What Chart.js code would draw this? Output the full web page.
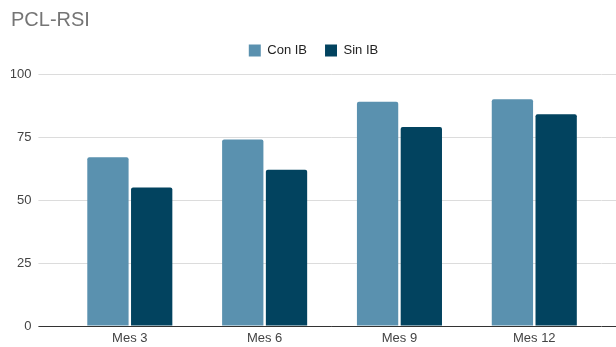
<!DOCTYPE html>
<html>
<head>
<meta charset="utf-8">
<script src="https://cdn.jsdelivr.net/npm/chart.js@4.4.1/dist/chart.umd.min.js"></script>
<style>
  html, body { margin: 0; padding: 0; background: #ffffff; }
  #wrap { width: 616px; height: 347px; }
</style>
</head>
<body>
<div id="wrap"><canvas id="chart" width="616" height="347"></canvas></div>
<script>
// Data
const chartTitle = 'PCL-RSI';
const categories = ['Mes 3', 'Mes 6', 'Mes 9', 'Mes 12'];
const seriesNames = ['Con IB', 'Sin IB'];
const conIB = [67, 74, 89, 90];
const sinIB = [55, 62, 79, 84];
const yMin = 0;
const yMax = 100;
const yStep = 25;

// Styling
const seriesColors = ['#5a91af', '#02435f'];
const gridColor = '#dcdcdc';
const baseColor = '#333333';
const gridLine = ctx => (ctx.tick && ctx.tick.value === 0 ? baseColor : gridColor);

Chart.defaults.font.family = "'Liberation Sans', Arial, sans-serif";

new Chart(document.getElementById('chart'), {
  type: 'bar',
  data: {
    labels: categories,
    datasets: [
      {
        label: seriesNames[0],
        data: conIB,
        backgroundColor: seriesColors[0],
        borderRadius: 2,
        borderSkipped: 'start'
      },
      {
        label: seriesNames[1],
        data: sinIB,
        backgroundColor: seriesColors[1],
        borderRadius: 2,
        borderSkipped: 'start'
      }
    ]
  },
  options: {
    responsive: false,
    devicePixelRatio: 1,
    animation: false,
    categoryPercentage: 0.649,
    barPercentage: 0.944,
    layout: { padding: { left: 11, right: 0, top: 0, bottom: 0 } },
    plugins: {
      title: {
        display: true,
        text: chartTitle,
        align: 'start',
        color: '#757575',
        font: { size: 20, weight: 'normal', lineHeight: 0.55 },
        padding: { top: 15, bottom: 0 }
      },
      legend: {
        display: true,
        position: 'top',
        align: 'center',
        labels: {
          boxWidth: 12,
          boxHeight: 12,
          padding: 18,
          color: '#222222',
          font: { size: 13 }
        }
      },
      tooltip: { enabled: false }
    },
    scales: {
      x: {
        position: 'bottom',
        grid: { display: false },
        border: { display: false },
        ticks: { color: '#444444', font: { size: 13 }, padding: -3 },
        afterFit: s => { s.height = 21; }
      },
      xGap: {
        type: 'category',
        position: 'top',
        grid: { display: false },
        border: { display: false },
        ticks: { display: false },
        afterFit: s => { s.height = 7; }
      },
      y: {
        position: 'left',
        min: yMin,
        max: yMax,
        ticks: { stepSize: yStep, color: '#444444', font: { size: 13 }, padding: 7 },
        grid: { color: gridLine, tickColor: gridLine, tickLength: 24, drawTicks: true },
        border: { display: false },
        afterFit: s => { s.width = 51.4; }
      },
      yRight: {
        position: 'right',
        min: yMin,
        max: yMax,
        ticks: { stepSize: yStep, display: false },
        grid: { color: gridLine, tickColor: gridLine, tickLength: 14.3, drawTicks: true, drawOnChartArea: false },
        border: { display: false },
        afterFit: s => { s.width = 14.3; }
      }
    }
  }
});
</script>
</body>
</html>
